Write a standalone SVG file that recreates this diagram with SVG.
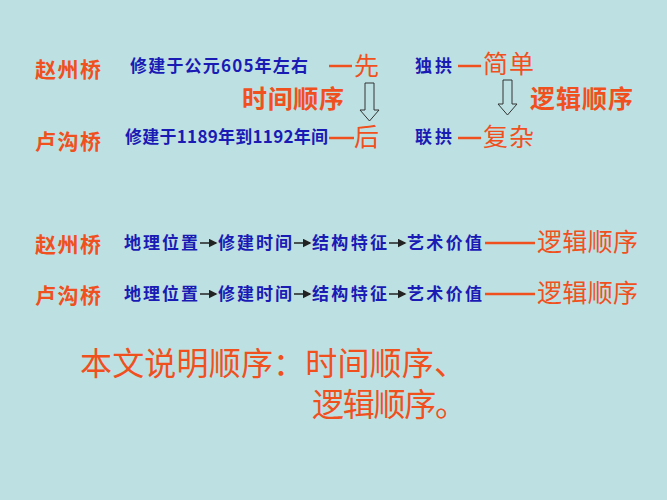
<svg xmlns="http://www.w3.org/2000/svg" width="667" height="500" viewBox="0 0 667 500">
<style>
text{font-family:"Noto Sans CJK SC","Liberation Sans",sans-serif}
.r{fill:#f0501e;font-weight:bold;font-size:21px}
.b{fill:#1a1ab4;font-weight:bold;font-size:17px}
.t{fill:#f0501e;font-size:25px}
.h{fill:#f0501e;font-weight:bold;font-size:25px}
.k{fill:#f0501e;font-size:32px}
.ar{fill:none;stroke:#333;stroke-width:1}
.d{stroke:#f0501e;stroke-width:2.5}
</style>
<defs><marker id="m" markerWidth="6" markerHeight="6" refX="5" refY="3" orient="auto"><path d="M0,0 L6,3 L0,6Z" fill="#222"/></marker></defs>
<rect width="667" height="500" fill="#bde1e2"/>
<g id="row1">
<text class="r" x="35" y="77" textLength="66">赵州桥</text>
<text class="b" x="130" y="72" textLength="178">修建于公元605年左右</text>
<line class="d" x1="329" y1="66" x2="352" y2="66"/>
<text class="t" x="354" y="75">先</text>
<text class="b" x="415" y="72" textLength="37">独拱</text>
<line class="d" x1="458" y1="66" x2="481" y2="66"/>
<text class="t" x="483" y="73" textLength="51">简单</text>
</g>
<g id="labels">
<text class="h" x="242" y="108" textLength="102">时间顺序</text>
<text class="h" x="530" y="108" textLength="103">逻辑顺序</text>
</g>
<g id="row2">
<text class="r" x="35" y="149" textLength="66">卢沟桥</text>
<text class="b" x="125" y="143" textLength="203">修建于1189年到1192年间</text>
<line class="d" x1="329" y1="138" x2="354" y2="138"/>
<text class="t" x="354" y="146">后</text>
<text class="b" x="415" y="143" textLength="37">联拱</text>
<line class="d" x1="458" y1="138" x2="481" y2="138"/>
<text class="t" x="483" y="146" textLength="51">复杂</text>
</g>
<g id="hollow">
<path class="ar" d="M365,83 H374 V110 H379 L369.5,121 L360,110 H365 Z"/>
<path class="ar" d="M503,80 H512 V104 H517 L507.5,115 L498,104 H503 Z"/>
</g>
<g id="row3">
<text class="r" x="35" y="252" textLength="66">赵州桥</text>
<text class="b" x="124" y="249" textLength="74">地理位置</text>
<text class="b" x="218" y="249" textLength="74">修建时间</text>
<text class="b" x="312" y="249" textLength="75">结构特征</text>
<text class="b" x="407" y="249" textLength="75">艺术价值</text>
<line class="d" x1="485" y1="243" x2="535" y2="243"/>
<text class="t" x="537" y="251" textLength="101">逻辑顺序</text>
</g>
<g id="row4">
<text class="r" x="35" y="303" textLength="66">卢沟桥</text>
<text class="b" x="124" y="300" textLength="74">地理位置</text>
<text class="b" x="218" y="300" textLength="74">修建时间</text>
<text class="b" x="312" y="300" textLength="75">结构特征</text>
<text class="b" x="407" y="300" textLength="75">艺术价值</text>
<line class="d" x1="485" y1="294" x2="535" y2="294"/>
<text class="t" x="537" y="302" textLength="101">逻辑顺序</text>
</g>
<g id="connectors">
<line x1="200" y1="243" x2="216" y2="243" stroke="#222" stroke-width="1.5" marker-end="url(#m)"/>
<line x1="294" y1="243" x2="310" y2="243" stroke="#222" stroke-width="1.5" marker-end="url(#m)"/>
<line x1="389" y1="243" x2="405" y2="243" stroke="#222" stroke-width="1.5" marker-end="url(#m)"/>
<line x1="200" y1="294" x2="216" y2="294" stroke="#222" stroke-width="1.5" marker-end="url(#m)"/>
<line x1="294" y1="294" x2="310" y2="294" stroke="#222" stroke-width="1.5" marker-end="url(#m)"/>
<line x1="389" y1="294" x2="405" y2="294" stroke="#222" stroke-width="1.5" marker-end="url(#m)"/>
</g>
<g id="summary">
<text class="k" x="80" y="375" textLength="386">本文说明顺序：时间顺序、</text>
<text class="k" x="312" y="416" textLength="155">逻辑顺序。</text>
</g>
</svg>
